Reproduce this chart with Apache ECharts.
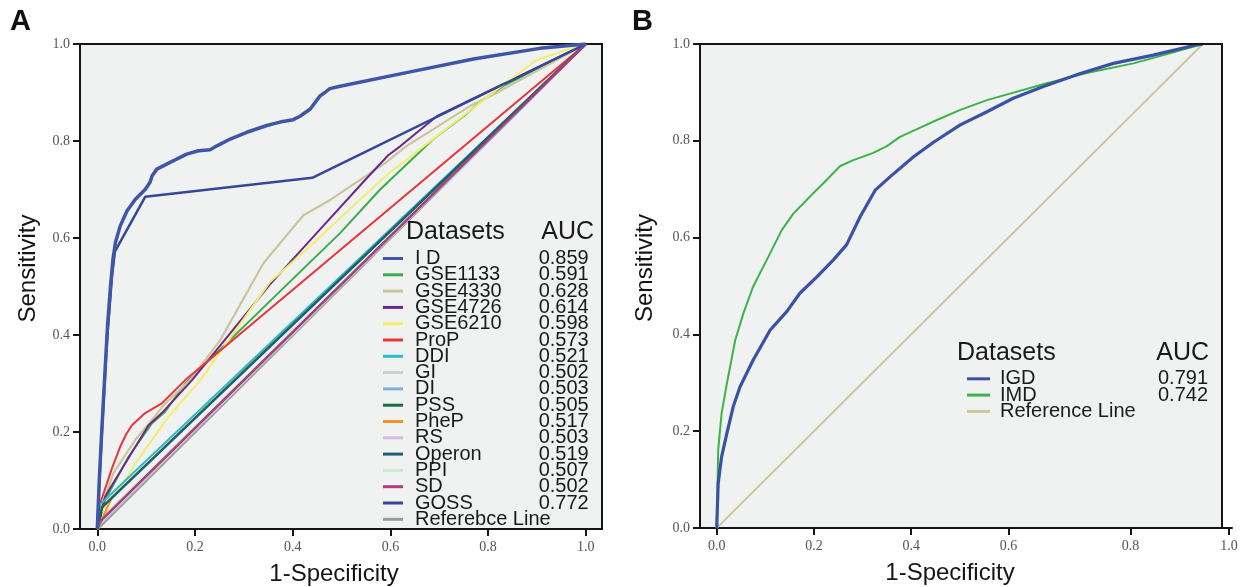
<!DOCTYPE html>
<html><head><meta charset="utf-8">
<script src="https://cdn.jsdelivr.net/npm/echarts@6/dist/echarts.min.js"></script>
<style>html,body{margin:0;padding:0;background:#fff}#c{width:1240px;height:587px}</style>
</head><body><div id="c"></div>
<script>
// ---------- DATA ----------
const tickLabels = ['0.0','0.2','0.4','0.6','0.8','1.0'];
const namesA = ['I D','GSE1133','GSE4330','GSE4726','GSE6210','ProP','DDI','GI','DI','PSS','PheP','RS','Operon','PPI','SD','GOSS','Referebce Line'];
const aucA = ['0.859','0.591','0.628','0.614','0.598','0.573','0.521','0.502','0.503','0.505','0.517','0.503','0.519','0.507','0.502','0.772',''];
const namesB = ['IGD','IMD','Reference Line'];
const aucB = ['0.791','0.742',''];

const curveID = [[0,0],[0.004,0.1],[0.009,0.2],[0.015,0.31],[0.021,0.42],[0.027,0.5],[0.032,0.555],[0.037,0.59],[0.047,0.625],[0.061,0.656],[0.078,0.68],[0.098,0.70],[0.108,0.715],[0.112,0.728],[0.122,0.742],[0.149,0.756],[0.183,0.773],[0.207,0.78],[0.231,0.782],[0.245,0.79],[0.272,0.804],[0.306,0.818],[0.347,0.832],[0.374,0.839],[0.401,0.844],[0.415,0.851],[0.436,0.866],[0.456,0.893],[0.466,0.9],[0.476,0.908],[0.497,0.913],[0.633,0.941],[0.77,0.969],[0.906,0.991],[1,1]];
const curveGSE1133 = [[0,0],[0.016,0.06],[0.064,0.149],[0.112,0.218],[0.139,0.242],[0.18,0.3],[0.374,0.49],[0.497,0.61],[0.579,0.7],[0.688,0.804],[0.756,0.856],[0.783,0.88],[0.831,0.913],[1,1]];
const curveGSE4330 = [[0,0],[0.009,0.046],[0.033,0.115],[0.078,0.184],[0.112,0.225],[0.139,0.259],[0.19,0.307],[0.252,0.39],[0.34,0.548],[0.422,0.647],[0.476,0.678],[0.538,0.72],[0.587,0.753],[0.632,0.789],[0.763,0.872],[0.817,0.899],[1,1]];
const curveGSE4726 = [[0,0],[0.016,0.067],[0.057,0.135],[0.105,0.214],[0.132,0.239],[0.194,0.307],[0.354,0.505],[0.449,0.61],[0.544,0.715],[0.595,0.77],[0.62,0.789],[0.695,0.851],[1,1]];
const curveGSE6210 = [[0,0],[0.006,0.032],[0.044,0.08],[0.078,0.135],[0.146,0.232],[0.211,0.307],[0.354,0.51],[0.429,0.577],[0.544,0.685],[0.599,0.735],[0.695,0.81],[0.77,0.868],[0.817,0.905],[0.899,0.967],[1,1]];
const curveProP = [[0,0],[0.006,0.053],[0.03,0.125],[0.047,0.17],[0.06,0.197],[0.071,0.214],[0.098,0.239],[0.132,0.259],[0.18,0.307],[1,1]];
const curveDDI = [[0,0],[0.005,0.05],[1,1]];
const curveGI = [[0,0],[0.01,0.014],[1,1]];
const curveDI = [[0,0],[0.01,0.016],[1,1]];
const curvePSS = [[0,0],[0.01,0.02],[1,1]];
const curvePheP = [[0,0],[0.03,0.065],[1,1]];
const curveRS = [[0,0],[0.005,0.011],[1,1]];
const curveOperon = [[0,0],[0.01,0.045],[1,1]];
const curvePPI = [[0,0],[0.01,0.024],[1,1]];
const curveSD = [[0,0],[0.006,0.016],[1,1]];
const curveGOSS = [[0,0],[0.005,0.11],[0.01,0.21],[0.02,0.39],[0.03,0.52],[0.036,0.572],[0.098,0.685],[0.44,0.724],[1,1]];
const curveRefA = [[0,0],[1,1]];

const curveIGD = [[0,0],[0.003,0.092],[0.01,0.147],[0.021,0.196],[0.034,0.251],[0.048,0.292],[0.075,0.347],[0.11,0.409],[0.144,0.447],[0.171,0.485],[0.206,0.519],[0.24,0.554],[0.267,0.585],[0.295,0.643],[0.326,0.698],[0.357,0.726],[0.405,0.767],[0.446,0.797],[0.501,0.833],[0.556,0.86],[0.61,0.888],[0.672,0.912],[0.748,0.939],[0.816,0.96],[0.898,0.977],[0.981,0.997],[1,1]];
const curveIMD = [[0,0],[0.003,0.161],[0.01,0.237],[0.021,0.299],[0.038,0.388],[0.055,0.444],[0.075,0.499],[0.103,0.554],[0.134,0.616],[0.158,0.65],[0.199,0.692],[0.226,0.719],[0.254,0.748],[0.281,0.76],[0.322,0.775],[0.35,0.789],[0.377,0.808],[0.412,0.824],[0.453,0.843],[0.501,0.864],[0.556,0.884],[0.679,0.919],[0.761,0.94],[0.857,0.96],[0.919,0.977],[1,1]];
const curveRefB = [[0,0],[1,1]];

const curvesA = [curveID,curveGSE1133,curveGSE4330,curveGSE4726,curveGSE6210,curveProP,curveDDI,curveGI,curveDI,curvePSS,curvePheP,curveRS,curveOperon,curvePPI,curveSD,curveGOSS,curveRefA];
const curvesB = [curveIGD,curveIMD,curveRefB];

// ---------- STYLE ----------
const colorsA = ['#3e56a6','#3aac4a','#cbc59b','#6b2a86','#f3ee6c','#e7353b','#2cbcc2','#cfcfcf','#7daedd','#1f6b40','#f39324','#d6bade','#1d5e74','#d0e7c9','#b43a7d','#33479b','#9b9b9b'];
const widthsA = [3.5,2,2.2,2,2,2,2,2,2,2,2,2,2.5,2,2,2.5,3];
const zA =      [6,3,3,3,3,3,3,2,2,3,3,2,3,2,3,5,1];
const colorsB = ['#3a52a4','#3cb34a','#cdc89c'];
const widthsB = [3.2,2,2];

const tickPosA = [0,0.2,0.4,0.6,0.8,1.0];
const tickPosB = [0,0.2,0.4,0.6,0.851,1.054];
const bg = '#f0f2f1', ink = '#151515';
const serif = 'Liberation Serif', sans = 'Liberation Sans';

function xAxisCfg(grid, min, max, pos, nameShift){
  return {type:'value', gridIndex:grid, min:min, max:max,
    axisLine:{show:true, onZero:false, lineStyle:{color:ink,width:2}},
    axisTick:{show:true, customValues:pos, length:7, lineStyle:{color:ink,width:2}},
    axisLabel:{customValues:pos, formatter:(v)=>tickLabels[pos.findIndex(p=>Math.abs(p-v)<1e-6)], fontFamily:serif, fontSize:14, color:'#555', margin:11},
    splitLine:{show:false},
    name:'1-Specificity', nameLocation:'middle', nameGap:33,
    nameTextStyle:{fontFamily:sans, fontSize:24, color:ink, padding:nameShift}};
}
function yAxisCfg(grid, gap){
  return {type:'value', gridIndex:grid, min:0, max:1, interval:0.2,
    axisLine:{show:true, onZero:false, lineStyle:{color:ink,width:2}},
    axisTick:{show:true, length:7, lineStyle:{color:ink,width:2}},
    axisLabel:{formatter:(v)=>v.toFixed(1), fontFamily:serif, fontSize:14, color:'#555', margin:10},
    splitLine:{show:false},
    name:'Sensitivity', nameLocation:'middle', nameGap:gap,
    nameTextStyle:{fontFamily:sans, fontSize:24, color:ink, padding:[0,0,0,36]}};
}

const series = [];
namesA.forEach((n,i)=>series.push({type:'line', name:n, xAxisIndex:0, yAxisIndex:0, data:curvesA[i],
  symbol:'none', z:zA[i], color:colorsA[i], lineStyle:{color:colorsA[i], width:widthsA[i]}, itemStyle:{color:colorsA[i]}}));
namesB.forEach((n,i)=>series.push({type:'line', name:n, xAxisIndex:1, yAxisIndex:1, data:curvesB[i],
  symbol:'none', z:(i===0?5:(i===1?4:2)), color:colorsB[i], lineStyle:{color:colorsB[i], width:widthsB[i]}, itemStyle:{color:colorsB[i]}}));

function legendCfg(names, aucs, left, top, iw, nameW, pad){
  return {data:names, orient:'vertical', left:left, top:top, itemGap:-3.7, padding:0, itemWidth:iw, itemHeight:3, icon:'rect',
    selectedMode:false,
    formatter:(n)=>'{n|'+n+'}{v|'+aucs[names.indexOf(n)]+'}',
    textStyle:{fontFamily:sans, fontSize:20, color:'#1a1a1a',
      rich:{n:{fontFamily:sans,fontSize:20,width:nameW,padding:[0,0,0,pad],color:'#1a1a1a'},
            v:{fontFamily:sans,fontSize:20,width:51,align:'right',color:'#1a1a1a'}}}};
}

const chart = echarts.init(document.getElementById('c'), null, {renderer:'canvas'});
chart.setOption({
  animation:false,
  backgroundColor:'#fff',
  grid:[
    {left:80, top:44, width:522, height:485, show:true, backgroundColor:bg, borderColor:ink, borderWidth:2, outerBoundsMode:'none', containLabel:false},
    {left:700, top:44, width:532, height:484, show:false, outerBoundsMode:'none', containLabel:false}
  ],
  xAxis:[xAxisCfg(0,-0.0354,1.0332,tickPosA,[0,14,0,0]), xAxisCfg(1,-0.0344,1.06,tickPosB,[0,32,0,0])],
  yAxis:[yAxisCfg(0,40), yAxisCfg(1,43)],
  legend:[legendCfg(namesA,aucA,383,248.5,20,122.7,7), legendCfg(namesB,aucB,967,368.8,23,157,5)],
  graphic:[
    {type:'rect', shape:{x:700,y:44,width:522,height:484}, style:{fill:bg}, z:-1, silent:true},
    {type:'polyline', shape:{points:[[700,44],[1222,44],[1222,528]]}, style:{stroke:ink, lineWidth:2, fill:null}, z:100, silent:true},
    {type:'text', x:10, y:22, style:{text:'A', font:'bold 29px "Liberation Sans"', fill:'#111', verticalAlign:'middle'}},
    {type:'text', x:632, y:22, style:{text:'B', font:'bold 29px "Liberation Sans"', fill:'#111', verticalAlign:'middle'}},
    {type:'text', x:406, y:232, style:{text:'Datasets', font:'25px "Liberation Sans"', fill:'#1a1a1a', verticalAlign:'middle'}, z:50},
    {type:'text', x:594, y:232, style:{text:'AUC', font:'25px "Liberation Sans"', fill:'#1a1a1a', align:'right', verticalAlign:'middle'}, z:50},
    {type:'text', x:957, y:353, style:{text:'Datasets', font:'25px "Liberation Sans"', fill:'#1a1a1a', verticalAlign:'middle'}, z:50},
    {type:'text', x:1209, y:353, style:{text:'AUC', font:'25px "Liberation Sans"', fill:'#1a1a1a', align:'right', verticalAlign:'middle'}, z:50}
  ],
  series:series
});
</script></body></html>
